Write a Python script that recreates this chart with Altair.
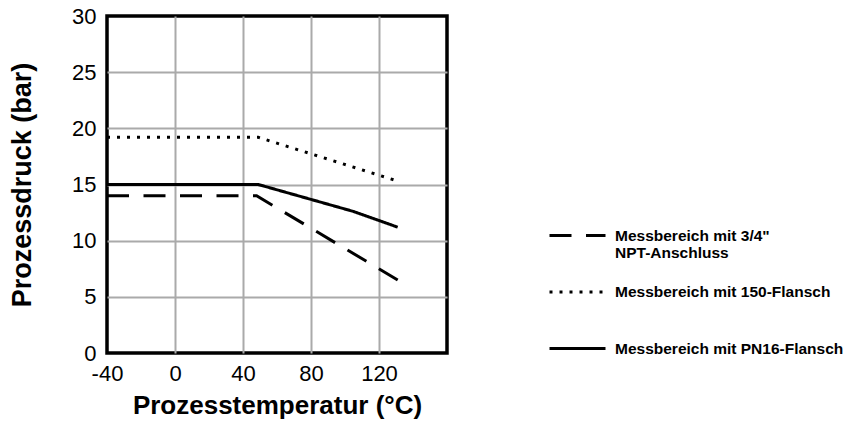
import altair as alt
import pandas as pd

# ---- data ----
series_names = ['Messbereich mit 3/4"|NPT-Anschluss',
                'Messbereich mit 150-Flansch',
                'Messbereich mit PN16-Flansch']
npt_x = [-40, 48, 131]
npt_y = [14.0, 14.0, 6.5]
fl150_x = [-40, 49, 129]
fl150_y = [19.2, 19.2, 15.4]
pn16_x = [-40, 49, 105, 131]
pn16_y = [15.0, 15.0, 12.6, 11.2]

x_ticks = [-40, 0, 40, 80, 120]
y_ticks = [0, 5, 10, 15, 20, 25, 30]
dash_patterns = [[22, 14.5], [3, 7], [1, 0]]

rows = []
for name, xs, ys in zip(series_names, [npt_x, fl150_x, pn16_x], [npt_y, fl150_y, pn16_y]):
    for i, (xv, yv) in enumerate(zip(xs, ys)):
        rows.append({"series": name, "temp": xv, "druck": yv, "idx": i})
df = pd.DataFrame(rows)

FONT = "Liberation Sans"

chart = alt.Chart(df).mark_line(color="black", strokeWidth=3, strokeCap="butt").encode(
    x=alt.X("temp:Q",
            scale=alt.Scale(domain=[-40, 160], nice=False),
            axis=alt.Axis(values=x_ticks, title="Prozesstemperatur (°C)",
                          labelExpr="'' + datum.value",
                          grid=True,
                          gridColor={"condition": {"test": "datum.value == -40", "value": "transparent"},
                                     "value": "#aaaaaa"},
                          gridWidth=2, domain=False, ticks=False, tickSize=0,
                          labelFont=FONT, labelFontSize=22, labelColor="black",
                          labelPadding=10, labelFlush=False,
                          titleFont=FONT, titleFontSize=26, titleFontWeight="bold",
                          titleColor="black", titleX=170, titleY=52,
                          titleBaseline="middle", titleAlign="center")),
    y=alt.Y("druck:Q",
            scale=alt.Scale(domain=[0, 30], nice=False),
            axis=alt.Axis(values=y_ticks, title="Prozessdruck (bar)",
                          grid=True,
                          gridColor={"condition": {"test": "datum.value == 0 || datum.value == 30",
                                                   "value": "transparent"},
                                     "value": "#aaaaaa"},
                          gridWidth=2, domain=False, ticks=False, tickSize=0,
                          labelFont=FONT, labelFontSize=22, labelColor="black",
                          labelPadding=11, labelFlush=False,
                          titleFont=FONT, titleFontSize=27, titleFontWeight="bold",
                          titleColor="black", titleX=-85, titleY=168.5,
                          titleAngle=-90, titleBaseline="middle", titleAlign="center")),
    detail="series:N",
    order="idx:Q",
    strokeDash=alt.StrokeDash(
        "series:N",
        scale=alt.Scale(domain=series_names, range=dash_patterns),
        legend=alt.Legend(orient="none", legendX=441, legendY=190, title=None,
                          symbolType="stroke", symbolSize=3136, symbolStrokeWidth=3,
                          symbolStrokeColor="black",
                          labelFont=FONT, labelFontSize=15.5, labelFontWeight="bold",
                          labelColor="black", labelOffset=8, labelLimit=400,
                          rowPadding=0.5,
                          labelExpr="indexof(datum.label, '|') >= 0 ? split(datum.label, '|') : [datum.label, ' ']"),
    ),
).properties(
    width=340, height=337,
    padding={"left": 99, "top": 8, "right": 397, "bottom": 67},
    autosize=alt.AutoSizeParams(type="none"),
).configure_view(stroke="black", strokeWidth=3.5)

chart.save("out.html", embed_options={"renderer": "svg", "actions": False})
